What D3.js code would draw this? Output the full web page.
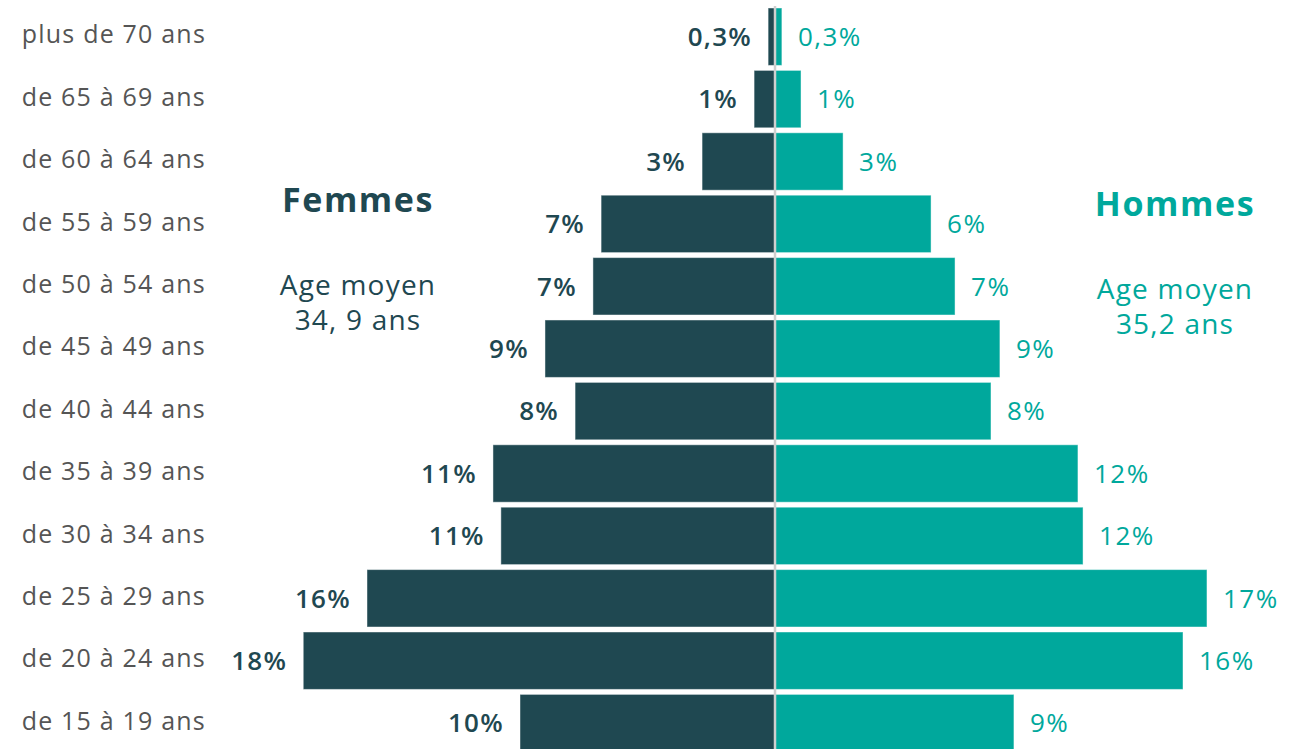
<!DOCTYPE html>
<html lang="fr">
<head>
<meta charset="utf-8">
<script src="https://cdn.jsdelivr.net/npm/d3@7"></script>
<style>
  html, body { margin: 0; padding: 0; background: #fff; }
  svg { display: block; font-family: "Open Sans", "Noto Sans", sans-serif; }
</style>
</head>
<body>
<div id="chart"></div>
<script>
const ageGroups = ["plus de 70 ans", "de 65 à 69 ans", "de 60 à 64 ans", "de 55 à 59 ans",
  "de 50 à 54 ans", "de 45 à 49 ans", "de 40 à 44 ans", "de 35 à 39 ans",
  "de 30 à 34 ans", "de 25 à 29 ans", "de 20 à 24 ans", "de 15 à 19 ans"];

// bar lengths (in %)
const femmes = [0.27, 0.82, 2.86, 6.82, 7.14, 9.02, 7.84, 11.06, 10.75, 16.0, 18.5, 10.0];
const hommes = [0.27, 1.02, 2.67, 6.12, 7.06, 8.82, 8.47, 11.88, 12.08, 16.94, 16.0, 9.37];

// labels as printed
const femmesLabels = ["0,3%", "1%", "3%", "7%", "7%", "9%", "8%", "11%", "11%", "16%", "18%", "10%"];
const hommesLabels = ["0,3%", "1%", "3%", "6%", "7%", "9%", "8%", "12%", "12%", "17%", "16%", "9%"];

const width = 1295;
const height = 749;
const center = 775;
const colF = "#1f4851";
const colH = "#00a89c";

const svg = d3.select("#chart")
  .append("svg")
  .attr("width", width)
  .attr("height", height);

const y = d3.scaleBand()
  .domain(ageGroups)
  .range([5.5, 754.3])
  .paddingInner(0.08)
  .paddingOuter(0.04);

const x = d3.scaleLinear()
  .domain([0, 20])
  .range([0, 510]);

// bars
svg.append("g")
  .selectAll("rect")
  .data(femmes)
  .join("rect")
  .attr("x", d => center - x(d))
  .attr("y", (d, i) => y(ageGroups[i]))
  .attr("width", d => x(d))
  .attr("height", y.bandwidth())
  .attr("fill", colF)
  .attr("stroke", "rgba(255,255,255,0.45)")
  .attr("stroke-width", 1);

svg.append("g")
  .selectAll("rect")
  .data(hommes)
  .join("rect")
  .attr("x", center)
  .attr("y", (d, i) => y(ageGroups[i]))
  .attr("width", d => x(d))
  .attr("height", y.bandwidth())
  .attr("fill", colH)
  .attr("stroke", "rgba(255,255,255,0.45)")
  .attr("stroke-width", 1);

// center line
svg.append("line")
  .attr("x1", center).attr("x2", center)
  .attr("y1", 6).attr("y2", height)
  .attr("stroke", "#cfcfcf")
  .attr("stroke-width", 2.5);

// value labels
svg.append("g")
  .selectAll("text")
  .data(femmesLabels)
  .join("text")
  .attr("x", (d, i) => center - x(femmes[i]) - 16)
  .attr("y", (d, i) => y(ageGroups[i]) + y.bandwidth() / 2)
  .attr("dy", "0.36em")
  .attr("text-anchor", "end")
  .attr("fill", colF)
  .attr("font-size", 26)
  .attr("font-weight", 600)
  .attr("letter-spacing", 1.3)
  .text(d => d);

svg.append("g")
  .selectAll("text")
  .data(hommesLabels)
  .join("text")
  .attr("x", (d, i) => center + x(hommes[i]) + 16)
  .attr("y", (d, i) => y(ageGroups[i]) + y.bandwidth() / 2)
  .attr("dy", "0.36em")
  .attr("text-anchor", "start")
  .attr("fill", colH)
  .attr("font-size", 26)
  .attr("font-weight", 500)
  .attr("letter-spacing", 1.5)
  .text(d => d);

// age group labels
svg.append("g")
  .selectAll("text")
  .data(ageGroups)
  .join("text")
  .attr("x", 206)
  .attr("y", d => y(d) + y.bandwidth() / 2 - 2)
  .attr("dy", "0.35em")
  .attr("text-anchor", "end")
  .attr("fill", "#555")
  .attr("font-size", 25)
  .attr("letter-spacing", 1.2)
  .text(d => d);

// side titles
const side = [
  { x: 358, title: "Femmes", ty: 212, lines: ["Age moyen", "34, 9 ans"], ly: 295, color: colF },
  { x: 1175, title: "Hommes", ty: 216, lines: ["Age moyen", "35,2 ans"], ly: 299, color: colH }
];

side.forEach(s => {
  svg.append("text")
    .attr("x", s.x).attr("y", s.ty)
    .attr("text-anchor", "middle")
    .attr("fill", s.color)
    .attr("font-size", 34)
    .attr("font-weight", 700)
    .attr("letter-spacing", 1.6)
    .text(s.title);
  s.lines.forEach((l, i) => {
    svg.append("text")
      .attr("x", s.x).attr("y", s.ly + i * 35)
      .attr("text-anchor", "middle")
      .attr("fill", s.color)
      .attr("font-size", 28)
      .attr("font-weight", 500)
      .attr("letter-spacing", 1.2)
      .text(l);
  });
});
</script>
</body>
</html>
